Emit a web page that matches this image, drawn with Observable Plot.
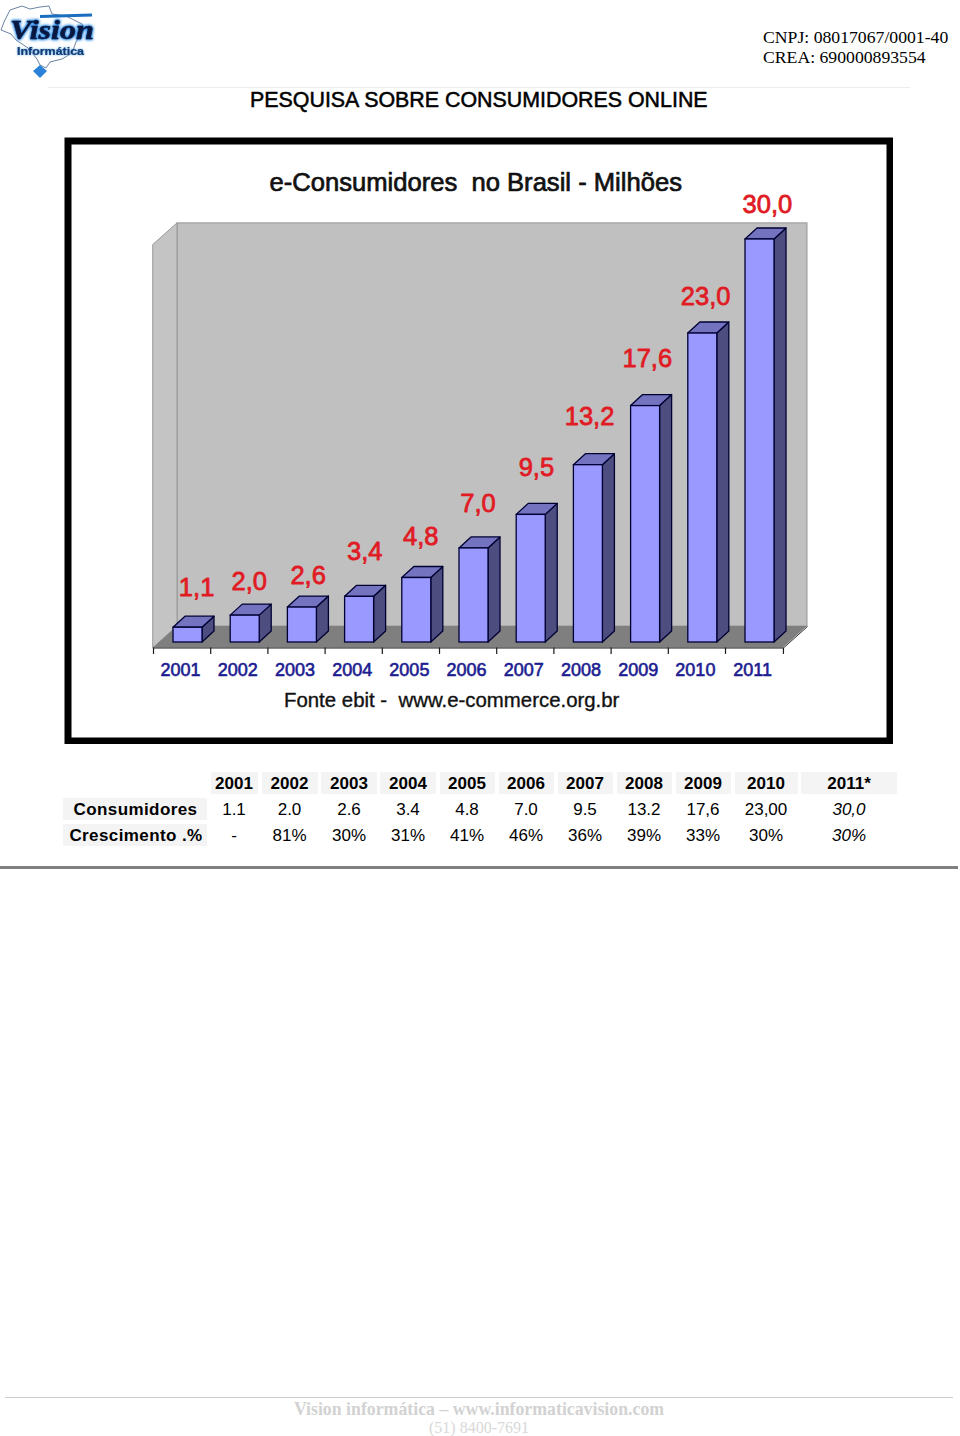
<!DOCTYPE html>
<html lang="pt-BR">
<head>
<meta charset="utf-8">
<script src="https://cdn.jsdelivr.net/npm/d3@7"></script>
<script src="https://cdn.jsdelivr.net/npm/@observablehq/plot@0.6"></script>
<style>
  html, body { margin:0; padding:0; background:#fff; }
  #page { position:relative; width:960px; height:1436px; overflow:hidden; font-family:"Liberation Sans",Arial,sans-serif; color:#000; }
  .abs { position:absolute; white-space:pre; }
  .serif { font-family:"Liberation Serif",serif; }
  .cell { position:absolute; text-align:center; white-space:pre; line-height:24px; height:22px; font-size:17px; }
  .bg { background:#f4f4f4; }
  .b { font-weight:bold; }
  .i { font-style:italic; }
  #chart { position:absolute; left:64px; top:137px; }
  #chart svg { display:block; }
</style>
</head>
<body>
<div id="page"></div>
<script>
// ---- chart values ----
const years = [2001,2002,2003,2004,2005,2006,2007,2008,2009,2010,2011];
const consumers = [1.1,2.0,2.6,3.4,4.8,7.0,9.5,13.2,17.6,23.0,30.0];
const valueLabels = ["1,1","2,0","2,6","3,4","4,8","7,0","9,5","13,2","17,6","23,0","30,0"];
// ---- table values ----
const tableYears = ["2001","2002","2003","2004","2005","2006","2007","2008","2009","2010","2011*"];
const tableConsumers = ["1.1","2.0","2.6","3.4","4.8","7.0","9.5","13.2","17,6","23,00","30,0"];
const tableGrowth = ["-","81%","30%","31%","41%","46%","36%","39%","33%","30%","30%"];
// ---- texts ----
const chartTitle = "e-Consumidores  no Brasil - Milhões";
const chartSource = "Fonte ebit -  www.e-commerce.org.br";
const pageTitle = "PESQUISA SOBRE CONSUMIDORES ONLINE";

// ---- annotation placement (in scale units), separate from the data ----
const labelLift = [3.0,2.5,2.4,3.35,3.05,3.3,3.5,3.6,3.5,2.7,2.55];
const labelShift = [0.15,0.07,0.1,0.09,0.07,0.07,0.09,0.02,0.03,0.05,0.13];

// 3D geometry, in scale units
const half = 0.2535, deepX = 0.21, deepY = 0.82;
const floorFront = -0.41, floorBack = 1.19, wallTop = 31.2;
const leftX = 2000.397, backX = 2000.817, rightX = 2011.41, farX = 2011.83, leftTop = 29.6;
const tickBottom = -0.89;

const bars = years.map((year,i)=>({year,value:consumers[i],label:valueLabels[i],lift:labelLift[i],shift:labelShift[i]}));
const sideFaces = bars.flatMap(d=>[
  {k:d.year,x:d.year+half,y1:0,y2:d.value},
  {k:d.year,x:d.year+half+deepX,y1:deepY,y2:d.value+deepY}
]);
const topFaces = bars.flatMap(d=>[
  {k:d.year,x:d.year-half,y1:d.value,y2:d.value},
  {k:d.year,x:d.year-half+deepX,y1:d.value,y2:d.value+deepY},
  {k:d.year,x:d.year+half,y1:d.value,y2:d.value+deepY},
  {k:d.year,x:d.year+half+deepX,y1:d.value+deepY,y2:d.value+deepY}
]);
const floorShape = [
  {x:leftX,y1:floorFront,y2:floorFront},
  {x:backX,y1:floorFront,y2:floorBack},
  {x:rightX,y1:floorFront,y2:floorBack},
  {x:farX,y1:floorBack,y2:floorBack}
];
const leftWall = [
  {x:leftX,y1:floorFront,y2:leftTop},
  {x:backX,y1:floorBack,y2:wallTop}
];
const tickXs = [...years.map(y=>y-0.603),rightX];

const ox = 64, oy = 137;
const chart = Plot.plot({
  width:829, height:607, margin:0,
  x:{domain:[2001,2011],range:[187.5-ox,759.5-ox],axis:null},
  y:{domain:[0,30],range:[642-oy,239-oy],axis:null},
  style:{fontFamily:'"Liberation Sans",Arial,sans-serif',background:"#fff"},
  marks:[
    Plot.rect([0],{x1:backX,x2:farX,y1:floorBack,y2:wallTop,fill:"#c0c0c0",stroke:"#969696",strokeWidth:1}),
    Plot.area(leftWall,{x1:"x",y1:"y1",y2:"y2",fill:"#c4c4c4",stroke:"#969696",strokeWidth:1}),
    Plot.area(floorShape,{x1:"x",y1:"y1",y2:"y2",fill:"#7f7f7f"}),
    Plot.ruleY([floorFront],{x1:leftX,x2:rightX,stroke:"#1a1a1a",strokeWidth:1.2}),
    Plot.link([0],{x1:rightX,x2:farX,y1:floorFront,y2:floorBack,stroke:"#333",strokeWidth:1}),
    Plot.ruleX(tickXs,{y1:floorFront,y2:tickBottom,stroke:"#1a1a1a",strokeWidth:1.2}),
    Plot.area(sideFaces,{x1:"x",y1:"y1",y2:"y2",z:"k",fill:"#4d4d80",stroke:"#000033",strokeWidth:1.3}),
    Plot.area(topFaces,{x1:"x",y1:"y1",y2:"y2",z:"k",fill:"#7373bf",stroke:"#000033",strokeWidth:1.3}),
    Plot.rect(bars,{x1:d=>d.year-half,x2:d=>d.year+half,y1:0,y2:"value",fill:"#9999ff",stroke:"#000033",strokeWidth:1.3}),
    Plot.text(bars,{x:d=>d.year+d.shift,y:d=>d.value+d.lift,text:"label",fill:"#e01b24",stroke:"#e01b24",strokeWidth:0.8,fontSize:25.5}),
    Plot.text(years,{x:d=>d-0.13,y:-2.07,text:d=>String(d),fill:"#1c1c90",stroke:"#1c1c90",strokeWidth:0.6,fontSize:18}),
    Plot.text([chartTitle],{x:2006.03,y:34.22,text:d=>d,fill:"#111",stroke:"#111",strokeWidth:0.7,fontSize:25.6}),
    Plot.text([chartSource],{x:2005.61,y:-4.35,text:d=>d,fill:"#111",stroke:"#111",strokeWidth:0.35,fontSize:20.4}),
    Plot.frame({stroke:"#000",strokeWidth:7,inset:3.5})
  ]
});

// ---- page layout ----
const page = document.getElementById("page");
function add(cls,text,css){
  const el=document.createElement("div");
  el.className=cls; el.textContent=text;
  Object.assign(el.style,css);
  page.appendChild(el); return el;
}
// logo
page.insertAdjacentHTML("beforeend",`<svg width="100" height="84" viewBox="0 0 100 84" style="position:absolute;left:0;top:0">
<path d="M10 10 L22 6 L30 9 L40 7 L49 6 L52 14 L66 16 L82 24 L84 30 L76 42 L72 53 L62 59 L50 62 L46 68 L40 65 L37 59 L28 48 L16 40 L11 34 L1 30 L4 22 Z" fill="#fff" stroke="#47638a" stroke-width="0.8"/>
<path d="M33 71 L40 65 L47 71 L40 78 Z" fill="#2b82d9"/>
<path d="M40 15 L92 13.5 L92 16.5 L40 18 Z" fill="#1a6ec0"/>
<text x="10" y="39" font-family="Liberation Serif" font-weight="bold" font-style="italic" font-size="27" textLength="84" lengthAdjust="spacingAndGlyphs" fill="#0a1840" stroke="#0a1840" stroke-width="0.5" style="filter:drop-shadow(0 0 1.4px #1f86e6) drop-shadow(0 0 1px #1f86e6)">Vision</text>
<text x="17" y="54.5" font-family="Liberation Sans" font-weight="bold" font-size="11" textLength="67" lengthAdjust="spacingAndGlyphs" fill="#123a74" stroke="#123a74" stroke-width="0.2" style="filter:drop-shadow(0 0 1px #5aa8ea)">Informática</text>
</svg>`);
add("abs serif","CNPJ: 08017067/0001-40",{left:"763px",top:"27px",fontSize:"17.7px",lineHeight:"20px"});
add("abs serif","CREA: 690000893554",{left:"763px",top:"47px",fontSize:"17.7px",lineHeight:"20px"});
add("abs","",{left:"48px",top:"87px",width:"862px",height:"1px",background:"#ececec"});
add("abs",pageTitle,{left:"250px",top:"87px",fontSize:"21.4px",lineHeight:"26px",WebkitTextStroke:"0.5px #000"});

const holder=document.createElement("div"); holder.id="chart"; holder.appendChild(chart); page.appendChild(holder);

// table
const colCenters=[234,289.5,349,408,467,526,585,644,703,766,849];
const colWidths=[47,56,56,56,55,55,55,55,55,63,96];
tableYears.forEach((t,i)=>{
  const w=colWidths[i], l=colCenters[i]-w/2;
  add("cell bg b",t,{left:l+"px",top:"772px",width:w+"px"});
  const it=i===10?" i":"";
  add("cell"+it,tableConsumers[i],{left:l+"px",top:"798px",width:w+"px"});
  add("cell"+it,tableGrowth[i],{left:l+"px",top:"824px",width:w+"px"});
});
add("cell bg b","Consumidores",{left:"63px",top:"798px",width:"144px",letterSpacing:"0.4px",paddingLeft:"1px",boxSizing:"border-box"});
add("cell bg b","Crescimento .%",{left:"63px",top:"824px",width:"144px",letterSpacing:"0.4px",paddingLeft:"2px",boxSizing:"border-box"});
add("abs","",{left:"0",top:"866px",width:"958px",height:"3px",background:"#808080"});

// footer
add("abs","",{left:"5px",top:"1397px",width:"948px",height:"1px",background:"#cfcfcf"});
add("abs serif","Vision informática – www.informaticavision.com",{left:"0",width:"958px",textAlign:"center",top:"1398px",fontSize:"17.8px",lineHeight:"22px",fontWeight:"bold",color:"#d2d2d2"});
add("abs serif","(51) 8400-7691",{left:"0",width:"958px",textAlign:"center",top:"1418px",fontSize:"16px",lineHeight:"20px",color:"#d8d8d8"});
</script>
</body>
</html>
